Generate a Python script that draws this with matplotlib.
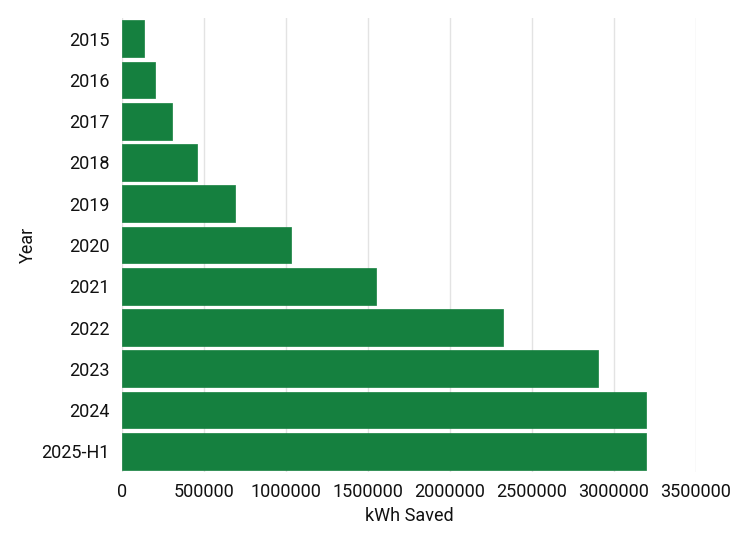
import matplotlib
matplotlib.use("Agg")
import matplotlib.pyplot as plt

years = ["2015", "2016", "2017", "2018", "2019", "2020", "2021", "2022", "2023", "2024", "2025-H1"]
kwh_saved = [134000, 203000, 305000, 457000, 689000, 1030000, 1549000, 2322000, 2902000, 3193000, 3193000]
x_ticks = [0, 500000, 1000000, 1500000, 2000000, 2500000, 3000000, 3500000]

plt.rcParams['font.family'] = ['Roboto', 'DejaVu Sans']

fig = plt.figure(figsize=(7.5, 5.4), dpi=100)
ax = fig.add_axes([122/750, 1 - 472/540, (696 - 122)/750, (472 - 18)/540])

pos = list(range(len(years)))
ax.barh(pos, kwh_saved, height=0.89, color="#15803f", edgecolor="#15803f",
        linewidth=0.5, joinstyle="round", zorder=3)

ax.set_ylim(len(years) - 0.5, -0.5)
ax.set_xlim(0, 3500000)
ax.set_yticks(pos)
ax.set_yticklabels(years)
ax.set_xticks(x_ticks)
ax.set_xticklabels([str(t) for t in x_ticks])

ax.grid(axis="x", color="#e3e3e3", linewidth=1, zorder=0)
ax.grid(axis="y", visible=False)
for s in ax.spines.values():
    s.set_visible(False)

ax.tick_params(axis="both", length=0, labelsize=13, colors="#111111")
ax.tick_params(axis="y", pad=9)
ax.tick_params(axis="x", pad=8)

ax.set_xlabel("kWh Saved", fontsize=13, color="#111111", labelpad=4)
ax.set_ylabel("Year", fontsize=13, color="#111111", labelpad=3)

fig.savefig("out.png", dpi=100)
